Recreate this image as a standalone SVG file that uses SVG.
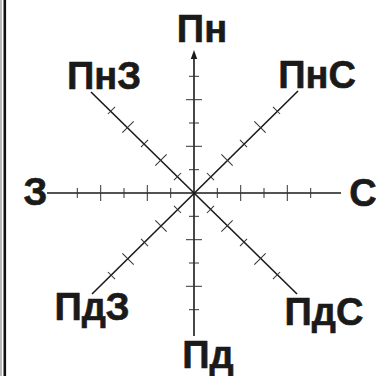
<svg xmlns="http://www.w3.org/2000/svg" width="376" height="376" viewBox="0 0 376 376">
<defs>
<style>
.ax{stroke:#1a1a1a;stroke-width:1.6;fill:none}
.tk{stroke:#333;stroke-width:1}
.lb{font-family:"Liberation Sans",Arial,sans-serif;font-weight:bold;font-size:38px;fill:#1a1a1a;text-anchor:middle;stroke:#1a1a1a;stroke-width:0.6}
</style>
<g id="ticks">
<line class="tk" x1="23.3" y1="-5" x2="23.3" y2="5"/>
<line class="tk" x1="46.7" y1="-8" x2="46.7" y2="8"/>
<line class="tk" x1="70" y1="-5" x2="70" y2="5"/>
<line class="tk" x1="93.3" y1="-8" x2="93.3" y2="8"/>
<line class="tk" x1="116.7" y1="-5" x2="116.7" y2="5"/>
</g>
</defs>
<rect width="376" height="376" fill="#fff"/>
<line x1="1" y1="0" x2="1" y2="376" stroke="#777" stroke-width="1"/>
<line x1="4.8" y1="0" x2="4.8" y2="376" stroke="#111" stroke-width="2.6"/>
<g id="connectors">
<line class="ax" x1="194" y1="56" x2="194" y2="336"/>
<polygon points="194,50 190.8,59 197.2,59" fill="#1a1a1a"/>
<line class="ax" x1="47" y1="193" x2="341" y2="193"/>
<line class="ax" x1="91" y1="92" x2="297" y2="294"/>
<line class="ax" x1="298" y1="91" x2="92" y2="294"/>
<g transform="translate(194,193)">
<use href="#ticks"/>
<use href="#ticks" transform="rotate(180)"/>
<use href="#ticks" transform="rotate(90)"/>
<use href="#ticks" transform="rotate(-90)"/>
<use href="#ticks" transform="rotate(45)"/>
<use href="#ticks" transform="rotate(135)"/>
<use href="#ticks" transform="rotate(-45)"/>
<use href="#ticks" transform="rotate(-135)"/>
</g>
</g>
<g id="n"><text class="lb" x="202" y="42">Пн</text></g>
<g id="nw"><text class="lb" x="104" y="89">ПнЗ</text></g>
<g id="ne"><text class="lb" x="317" y="88">ПнС</text></g>
<g id="w"><text class="lb" x="35.5" y="205">З</text></g>
<g id="e"><text class="lb" x="363" y="206">С</text></g>
<g id="sw"><text class="lb" x="92" y="320">ПдЗ</text></g>
<g id="se"><text class="lb" x="324" y="325">ПдС</text></g>
<g id="s"><text class="lb" x="208" y="368">Пд</text></g>
</svg>
